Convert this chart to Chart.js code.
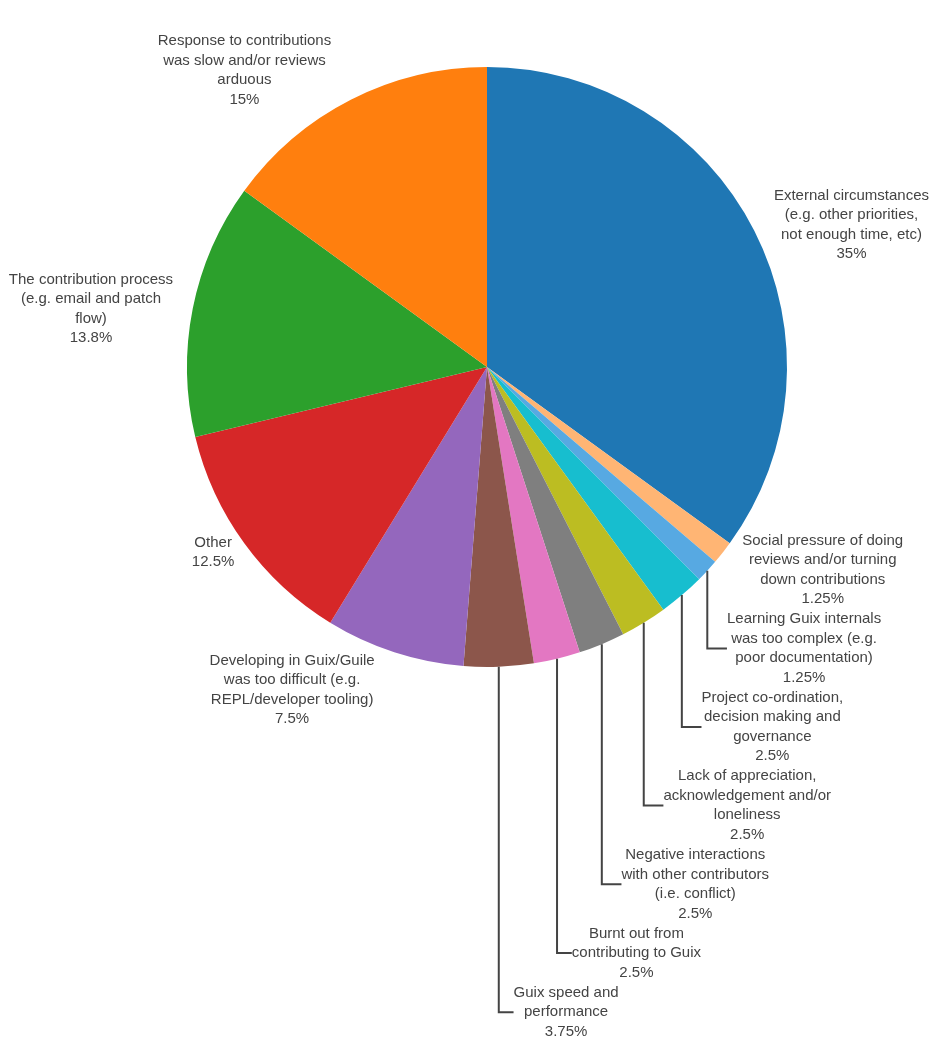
<!DOCTYPE html>
<html><head><meta charset="utf-8">
<script src="https://cdn.jsdelivr.net/npm/chart.js@4.4.1/dist/chart.umd.min.js"></script>
<style>html,body{margin:0;padding:0;background:#fff}</style>
</head><body>
<canvas id="c" width="942" height="1061" style="width:942px;height:1061px;display:block"></canvas>
<script>
// Categories in clockwise order from 12 o'clock (each entry = wrapped label lines)
const categories = [
  ["External circumstances", "(e.g. other priorities,", "not enough time, etc)"],
  ["Social pressure of doing", "reviews and/or turning", "down contributions"],
  ["Learning Guix internals", "was too complex (e.g.", "poor documentation)"],
  ["Project co-ordination,", "decision making and", "governance"],
  ["Lack of appreciation,", "acknowledgement and/or", "loneliness"],
  ["Negative interactions", "with other contributors", "(i.e. conflict)"],
  ["Burnt out from", "contributing to Guix"],
  ["Guix speed and", "performance"],
  ["Developing in Guix/Guile", "was too difficult (e.g.", "REPL/developer tooling)"],
  ["Other"],
  ["The contribution process", "(e.g. email and patch", "flow)"],
  ["Response to contributions", "was slow and/or reviews", "arduous"]
];
// Share of responses (%)
const values = [35, 1.25, 1.25, 2.5, 2.5, 2.5, 2.5, 3.75, 7.5, 12.5, 13.75, 15];
const sliceColors = ["#1f77b4", "#ffb574", "#57a9e2", "#17becf", "#bcbd22", "#7f7f7f",
                     "#e377c2", "#8c564b", "#9467bd", "#d62728", "#2ca02c", "#ff7f0e"];

const total = values.reduce((a, b) => a + b, 0);
const pctLabels = values.map(v => String(parseFloat((v / total * 100).toPrecision(3))) + "%");

const FONT = '15px "Liberation Sans", Arial, Helvetica, sans-serif';
const LINE_H = 19.5;
const TEXT_COLOR = "#444";

const outsideLabels = {
  id: "outsideLabels",
  afterDatasetsDraw(chart) {
    const ctx = chart.ctx;
    const meta = chart.getDatasetMeta(0);
    ctx.save();
    ctx.font = FONT;
    const items = meta.data.map((arc, i) => {
      const mid = (arc.startAngle + arc.endAngle) / 2;
      const r = arc.outerRadius;
      const px = r * Math.cos(mid), py = r * Math.sin(mid);
      const lines = categories[i].concat([pctLabels[i]]);
      const w = Math.max(...lines.map(l => ctx.measureText(l).width));
      const h = lines.length * LINE_H + 0.6;
      let dx = w / 2, dy = h / 2;
      if (px < 0) dx = -dx;
      if (py < 0) dy = -dy;
      const tx = dx + Math.abs(dy) * (dx > 0 ? 1 : -1) / 2;
      const ty = dy / (1 + (px * px) / (py * py));
      return { cx: arc.x, cy: arc.y, px, py, lines, w, h, x: px + tx, y: py + ty + 2, moved: false };
    });
    // push overlapping labels apart within each quadrant
    const groups = {};
    items.forEach(it => {
      const k = (it.px >= 0 ? "R" : "L") + (it.py >= 0 ? "B" : "T");
      (groups[k] = groups[k] || []).push(it);
    });
    Object.keys(groups).forEach(k => {
      const g = groups[k];
      const bottom = k[1] === "B";
      g.sort((a, b) => bottom ? a.py - b.py : b.py - a.py);
      for (let j = 1; j < g.length; j++) {
        const prev = g[j - 1], cur = g[j];
        if (bottom) {
          const lim = prev.y + prev.h / 2;
          if (cur.y - cur.h / 2 < lim) { cur.y = lim + cur.h / 2; cur.moved = true; }
        } else {
          const lim = prev.y - prev.h / 2;
          if (cur.y + cur.h / 2 > lim) { cur.y = lim - cur.h / 2; cur.moved = true; }
        }
      }
    });
    // leader lines
    ctx.strokeStyle = TEXT_COLOR;
    ctx.lineWidth = 2;
    items.forEach(it => {
      if (!it.moved) return;
      const ex = it.px >= 0 ? it.x - it.w / 2 : it.x + it.w / 2;
      ctx.beginPath();
      ctx.moveTo(it.cx + it.px, it.cy + it.py);
      ctx.lineTo(it.cx + it.px, it.cy + it.y);
      ctx.lineTo(it.cx + ex, it.cy + it.y);
      ctx.stroke();
    });
    // text
    ctx.fillStyle = TEXT_COLOR;
    ctx.textAlign = "center";
    ctx.textBaseline = "middle";
    items.forEach(it => {
      const n = it.lines.length;
      it.lines.forEach((l, k) => {
        ctx.fillText(l, it.cx + it.x, it.cy + it.y + (k - (n - 1) / 2) * LINE_H);
      });
    });
    ctx.restore();
  }
};

new Chart(document.getElementById("c"), {
  type: "pie",
  data: {
    labels: categories.map(c => c.join(" ")),
    datasets: [{ data: values, backgroundColor: sliceColors, borderWidth: 0 }]
  },
  options: {
    responsive: false,
    animation: false,
    layout: { padding: { left: 187, right: 155, top: 67, bottom: 394 } },
    plugins: { legend: { display: false }, tooltip: { enabled: false } }
  },
  plugins: [outsideLabels]
});
</script>
</body></html>
